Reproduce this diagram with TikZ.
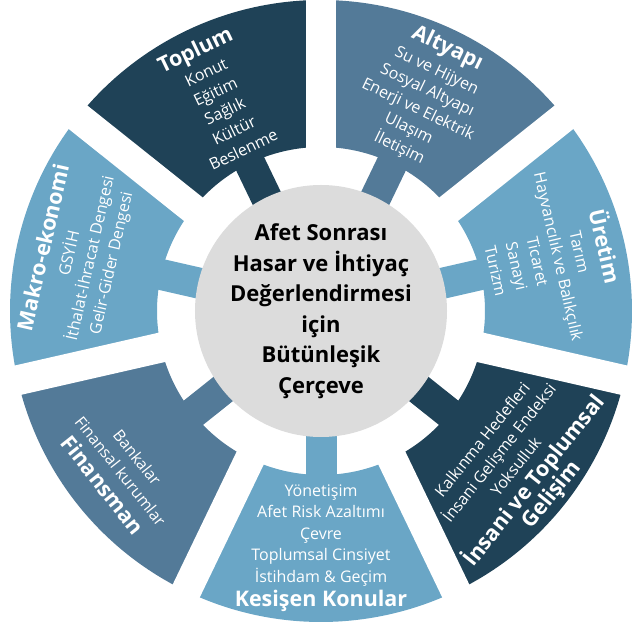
\documentclass[tikz,border=0pt]{standalone}
\usepackage{fontspec}
\setmainfont{Open Sans}
\definecolor{koyu}{HTML}{1F4257}
\definecolor{orta}{HTML}{537A98}
\definecolor{acik}{HTML}{6AA6C6}
\definecolor{gobek}{HTML}{DCDCDC}
\newcommand{\baslik}[1]{{\fontsize{21.5bp}{24bp}\selectfont\bfseries #1}}

\begin{document}
\begin{tikzpicture}[x=1bp, y=1bp,
		dilimyazi/.style={white, inner sep=0pt, align=center, font=\fontsize{16bp}{21.5bp}\selectfont},
		kol/.style={line width=31bp},
		bosluk/.style={fill=white},
		merkez/.style={circle, fill=gobek, minimum size=252bp, inner sep=0pt, align=center, font=\fontsize{22bp}{30.5bp}\selectfont\bfseries}]
		\useasboundingbox (-321,-312) rectangle (321,311);
		\coordinate (M) at (0, 0);
		\coordinate (toplum-uc) at (115.71:170);
		\coordinate (altyapi-uc) at (64.29:170);
		\coordinate (uretim-uc) at (12.86:170);
		\coordinate (insani-uc) at (-38.57:170);
		\coordinate (kesisen-uc) at (-90:170);
		\coordinate (finans-uc) at (-141.43:170);
		\coordinate (makro-uc) at (167.14:170);
		
		% dilimler
		\fill [koyu] (90:164) arc [start angle=90, end angle=141.43, radius=164] -- (141.43:311) arc [start angle=141.43, end angle=90, radius=311] -- cycle;
		\fill [orta] (38.57:164) arc [start angle=38.57, end angle=90, radius=164] -- (90:311) arc [start angle=90, end angle=38.57, radius=311] -- cycle;
		\fill [acik] (-12.86:164) arc [start angle=-12.86, end angle=38.57, radius=164] -- (38.57:311) arc [start angle=38.57, end angle=-12.86, radius=311] -- cycle;
		\fill [koyu] (-64.29:164) arc [start angle=-64.29, end angle=-12.86, radius=164] -- (-12.86:311) arc [start angle=-12.86, end angle=-64.29, radius=311] -- cycle;
		\fill [acik] (-115.71:164) arc [start angle=-115.71, end angle=-64.29, radius=164] -- (-64.29:311) arc [start angle=-64.29, end angle=-115.71, radius=311] -- cycle;
		\fill [orta] (-167.14:164) arc [start angle=-167.14, end angle=-115.71, radius=164] -- (-115.71:311) arc [start angle=-115.71, end angle=-167.14, radius=311] -- cycle;
		\fill [acik] (141.43:164) arc [start angle=141.43, end angle=192.86, radius=164] -- (192.86:311) arc [start angle=192.86, end angle=141.43, radius=311] -- cycle;
		
		\draw [kol, koyu] (M) -- (toplum-uc);
		\draw [kol, orta] (M) -- (altyapi-uc);
		\draw [kol, acik] (M) -- (uretim-uc);
		\draw [kol, koyu] (M) -- (insani-uc);
		\draw [kol, acik] (M) -- (kesisen-uc);
		\draw [kol, orta] (M) -- (finans-uc);
		\draw [kol, acik] (M) -- (makro-uc);
		
		% araliklar
		\fill [bosluk, rotate=90] (140,-15) rectangle (320,15);
		\fill [bosluk, rotate=38.57] (140,-15) rectangle (320,15);
		\fill [bosluk, rotate=-12.86] (140,-15) rectangle (320,15);
		\fill [bosluk, rotate=-64.29] (140,-15) rectangle (320,15);
		\fill [bosluk, rotate=-115.71] (140,-15) rectangle (320,15);
		\fill [bosluk, rotate=-167.14] (140,-15) rectangle (320,15);
		\fill [bosluk, rotate=141.43] (140,-15) rectangle (320,15);
		
		\node [merkez] (cerceve) at (M) {Afet Sonrası\\ Hasar ve İhtiyaç\\ Değerlendirmesi\\ için\\ Bütünleşik\\ Çerçeve};
		
		\node [dilimyazi, rotate=25.71] (toplum) at (115.71:236) {\baslik{Toplum}\\[2bp] Konut\\ Eğitim\\ Sağlık\\ Kültür\\ Beslenme};
		\node [dilimyazi, rotate=-25.71] (altyapi) at (64.29:237) {\baslik{Altyapı}\\[2bp] Su ve Hijyen\\ Sosyal Altyapı\\ Enerji ve Elektrik\\ Ulaşım\\ İletişim};
		\node [dilimyazi, rotate=-77.14] (uretim) at (12.86:238) {\baslik{Üretim}\\[2bp] Tarım\\ Hayvancılık ve Balıkçılık\\ Ticaret\\ Sanayi\\ Turizm};
		\node [dilimyazi, rotate=51.43] (insani) at (-38.57:253) {Kalkınma Hedefleri\\ İnsani Gelişme Endeksi\\ Yoksulluk\\[3bp] \baslik{İnsani ve Toplumsal}\\ \baslik{Gelişim}};
		\node [dilimyazi] (kesisen) at (-90:237) {Yönetişim\\ Afet Risk Azaltımı\\ Çevre\\ Toplumsal Cinsiyet\\ İstihdam \& Geçim\\[3bp] \baslik{Kesişen Konular}};
		\node [dilimyazi, rotate=-51.43] (finansman) at (-141.43:258) {Bankalar\\ Finansal kurumlar\\[3bp] \baslik{Finansman}};
		\node [dilimyazi, rotate=77.14] (makro) at (167.14:250) {\baslik{Makro-ekonomi}\\[3bp] GSYİH\\ İthalat-İhracat Dengesi\\ Gelir-Gider Dengesi};
	\end{tikzpicture}
\end{document}
